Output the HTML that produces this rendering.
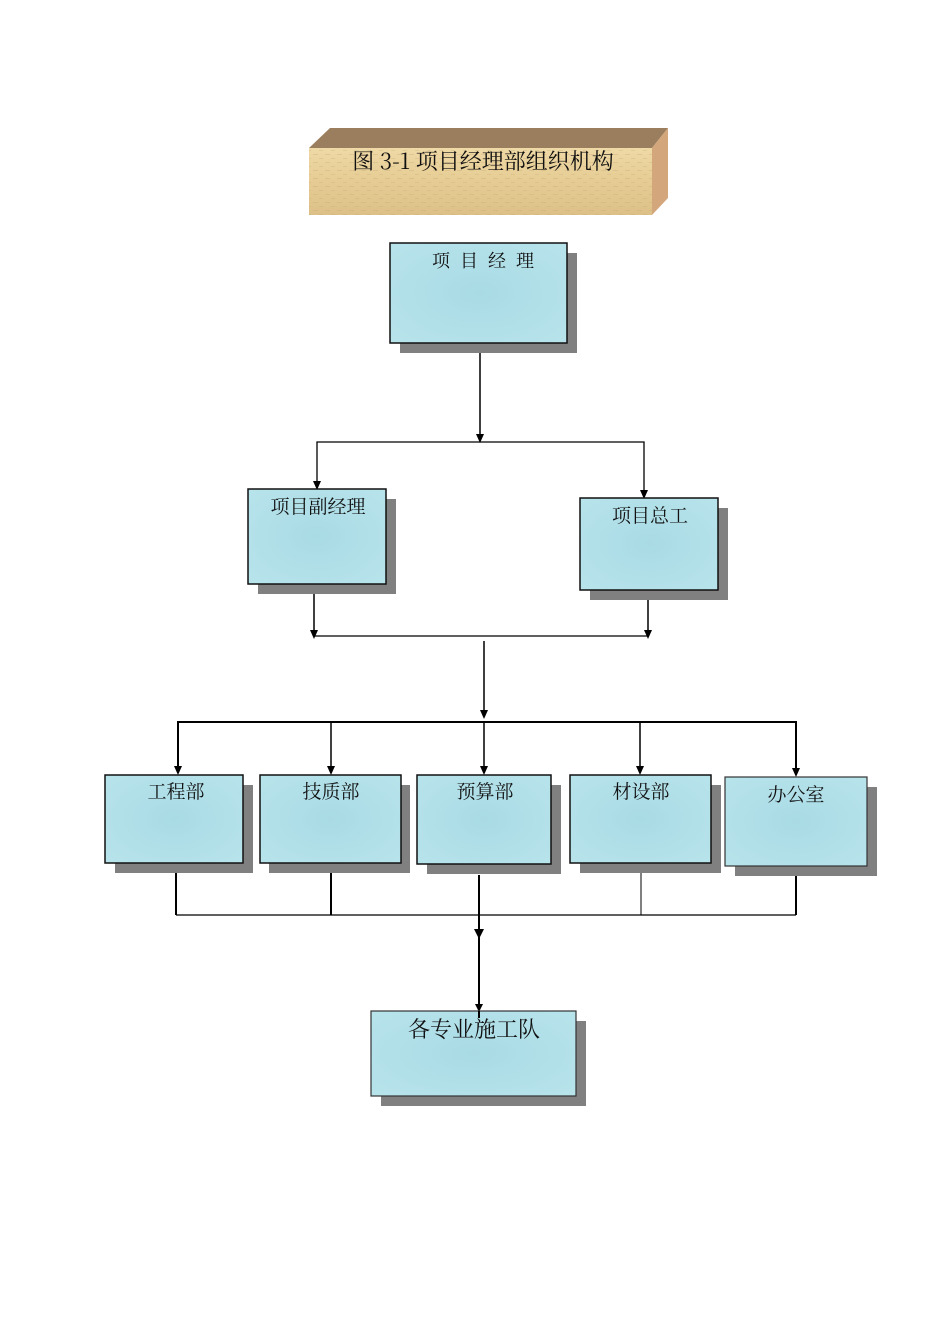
<!DOCTYPE html>
<html><head><meta charset="utf-8"><style>
html,body{margin:0;padding:0;background:#fff;}
svg{display:block;}
text{font-family:"Noto Serif CJK SC","Liberation Serif",serif;fill:#111;}
</style></head><body>
<svg width="950" height="1344" viewBox="0 0 950 1344" xmlns="http://www.w3.org/2000/svg">
<defs>
<linearGradient id="wood" x1="0" y1="0" x2="0" y2="1">
<stop offset="0" stop-color="#efd9a6"/><stop offset="0.5" stop-color="#e6cc94"/><stop offset="1" stop-color="#dcc088"/>
</linearGradient>
<pattern id="woodtex" width="12" height="8" patternUnits="userSpaceOnUse">
<rect width="12" height="8" fill="none"/>
<rect x="1" y="2" width="5" height="1" fill="#c9a974" opacity="0.35"/>
<rect x="7" y="6" width="4" height="1" fill="#c9a974" opacity="0.3"/>
</pattern>
<radialGradient id="water" cx="0.5" cy="0.5" r="0.75">
<stop offset="0" stop-color="#a9dbe5"/><stop offset="1" stop-color="#b9e4ec"/>
</radialGradient>
</defs>
<!-- title block -->
<polygon points="309,148 330,128 668,128 652,148" fill="#9b7e5e"/>
<polygon points="652,148 668,128 668,198 652,215" fill="#d4a67c"/>
<rect x="309" y="148" width="343" height="67" fill="url(#wood)"/>
<rect x="309" y="148" width="343" height="67" fill="url(#woodtex)"/>
<text x="483" y="169" font-size="22" text-anchor="middle">图 3-1 项目经理部组织机构</text>

<g stroke="#000" stroke-width="1.5" fill="none">
<line x1="480" y1="353" x2="480" y2="434"/>
<polyline points="317,489 317,442 644,442 644,498" stroke-width="1.3"/>
<line x1="314" y1="584" x2="314" y2="630"/>
<line x1="648" y1="590" x2="648" y2="630"/>
<line x1="314" y1="636" x2="648" y2="636" stroke-width="1.2"/>
<line x1="484" y1="641" x2="484" y2="712"/>
<polyline points="178,768 178,722 796,722 796,770" stroke-width="2"/>
<line x1="331" y1="722" x2="331" y2="768"/>
<line x1="484" y1="722" x2="484" y2="768"/>
<line x1="640" y1="722" x2="640" y2="768"/>
<line x1="176" y1="863" x2="176" y2="915" stroke-width="2"/>
<line x1="331" y1="863" x2="331" y2="915" stroke-width="2"/>
<line x1="641" y1="863" x2="641" y2="915" stroke-width="1"/>
<line x1="796" y1="866" x2="796" y2="915" stroke-width="2"/>
<line x1="176" y1="915" x2="796" y2="915" stroke-width="1.2"/>
<line x1="479" y1="875" x2="479" y2="1010" stroke-width="2"/>
</g>
<g fill="#000">
<polygon points="476,434 484,434 480,443"/>
<polygon points="313,481 321,481 317,490"/>
<polygon points="640,490 648,490 644,499"/>
<polygon points="310,630 318,630 314,639"/>
<polygon points="644,630 652,630 648,639"/>
<polygon points="480,710 488,710 484,719"/>
<polygon points="174,766 182,766 178,775"/>
<polygon points="327,766 335,766 331,775"/>
<polygon points="480,766 488,766 484,775"/>
<polygon points="636,766 644,766 640,775"/>
<polygon points="792,768 800,768 796,777"/>
<polygon points="474,929 484,929 479,939"/>
<polygon points="475,1004 483,1004 479,1012"/>
</g>

<g>
<rect x="400" y="253" width="177" height="100" fill="#808080"/>
<rect x="390" y="243" width="177" height="100" fill="url(#water)" stroke="#111" stroke-width="1.5"/>
<text x="488" y="267" font-size="18" text-anchor="middle" letter-spacing="10">项目经理</text>

<rect x="258" y="499" width="138" height="95" fill="#808080"/>
<rect x="248" y="489" width="138" height="95" fill="url(#water)" stroke="#111" stroke-width="1.5"/>
<text x="318" y="513" font-size="19" text-anchor="middle">项目副经理</text>

<rect x="590" y="508" width="138" height="92" fill="#808080"/>
<rect x="580" y="498" width="138" height="92" fill="url(#water)" stroke="#111" stroke-width="1.5"/>
<text x="650" y="522" font-size="19" text-anchor="middle">项目总工</text>

<rect x="115" y="785" width="138" height="88" fill="#808080"/>
<rect x="105" y="775" width="138" height="88" fill="url(#water)" stroke="#111" stroke-width="1.5"/>
<text x="176" y="798" font-size="19" text-anchor="middle">工程部</text>

<rect x="269" y="785" width="141" height="88" fill="#808080"/>
<rect x="260" y="775" width="141" height="88" fill="url(#water)" stroke="#111" stroke-width="1.5"/>
<text x="331" y="798" font-size="19" text-anchor="middle">技质部</text>

<rect x="427" y="785" width="134" height="89" fill="#808080"/>
<rect x="417" y="775" width="134" height="89" fill="url(#water)" stroke="#111" stroke-width="1.5"/>
<text x="485" y="798" font-size="19" text-anchor="middle">预算部</text>

<rect x="580" y="785" width="141" height="88" fill="#808080"/>
<rect x="570" y="775" width="141" height="88" fill="url(#water)" stroke="#111" stroke-width="1.5"/>
<text x="641" y="798" font-size="19" text-anchor="middle">材设部</text>

<rect x="735" y="787" width="142" height="89" fill="#808080"/>
<rect x="725" y="777" width="142" height="89" fill="url(#water)" stroke="#333" stroke-width="1.2"/>
<text x="796" y="801" font-size="19" text-anchor="middle">办公室</text>

<rect x="381" y="1021" width="205" height="85" fill="#808080"/>
<rect x="371" y="1011" width="205" height="85" fill="url(#water)" stroke="#333" stroke-width="1.2"/>
<text x="474" y="1037" font-size="22" text-anchor="middle">各专业施工队</text>
</g>
<line x1="479" y1="1011" x2="479" y2="1018" stroke="#000" stroke-width="2"/>
</svg>
</body></html>
